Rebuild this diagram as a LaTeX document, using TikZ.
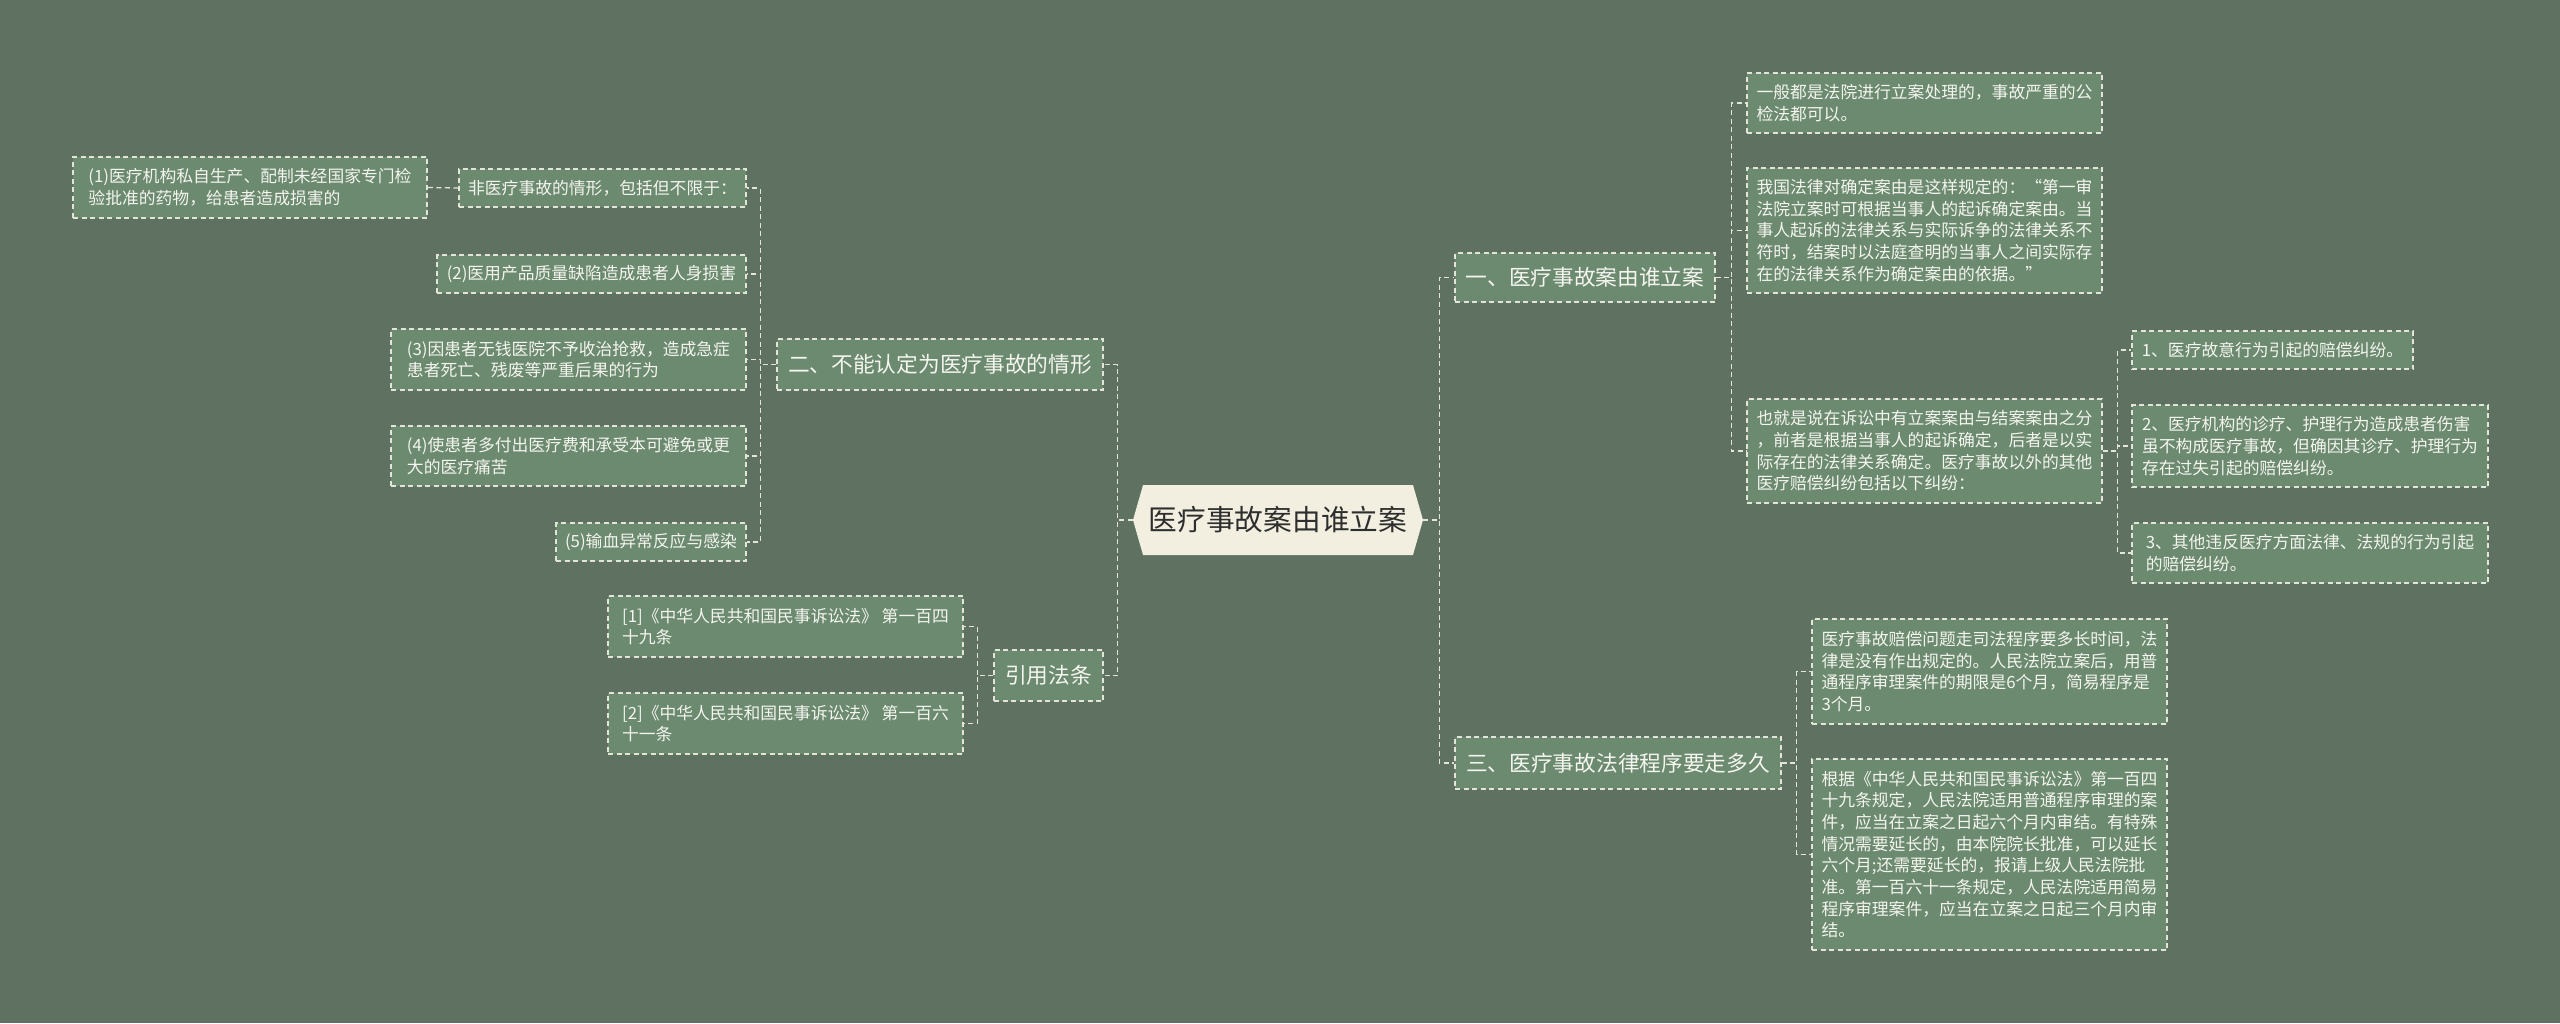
\documentclass[tikz,border=0pt]{standalone}
\usepackage{fontspec}
\newfontfamily\hei{Noto Sans CJK SC}
\usetikzlibrary{shapes.symbols}
\definecolor{BgClr}{HTML}{5F7262}
\definecolor{BoxClr}{HTML}{6B8A6F}
\definecolor{LineClr}{HTML}{E2E5D8}
\definecolor{RootClr}{HTML}{F3EFE0}
\definecolor{TxtClr}{HTML}{F4F5EE}
\definecolor{RootTxt}{HTML}{2E2E2E}

\begin{document}
\begin{tikzpicture}[x=1pt,y=-1pt,
  link/.style={draw=LineClr,line width=1.3pt,dash pattern=on 5pt off 3.5pt},
  box/.style={link,fill=BoxClr,text=TxtClr,align=left,inner sep=0pt},
  leaf/.style={box,font=\hei\fontsize{16.8}{21.7}\selectfont},
  topic/.style={box,font=\hei\fontsize{21.7}{26}\selectfont},
  root/.style={signal,signal to=west and east,signal pointer angle=148,
    fill=RootClr,text=RootTxt,inner sep=0pt,
    font=\hei\fontsize{28.7}{34}\selectfont}]

\useasboundingbox (0,0) rectangle (2560,1023);
\fill[BgClr] (0,0) rectangle (2560,1023);

\node[root,minimum width=290,minimum height=70] (R) at (1278,520) {医疗事故案由谁立案};

% left half
\node[topic,minimum width=326,minimum height=51] (T2) at (940,364.5) {二、不能认定为医疗事故的情形};
\node[leaf,minimum width=287,minimum height=38] (L0) at (602.5,188) {非医疗事故的情形，包括但不限于：};
\node[leaf,minimum width=354,minimum height=61] (L1) at (250,187.5) {(1)医疗机构私自生产、配制未经国家专门检\\验批准的药物，给患者造成损害的};
\node[leaf,minimum width=309,minimum height=38] (L2) at (591.5,274) {(2)医用产品质量缺陷造成患者人身损害};
\node[leaf,minimum width=355,minimum height=61] (L3) at (568.5,359.5) {(3)因患者无钱医院不予收治抢救，造成急症\\患者死亡、残废等严重后果的行为};
\node[leaf,minimum width=355,minimum height=60] (L4) at (568.5,456) {(4)使患者多付出医疗费和承受本可避免或更\\大的医疗痛苦};
\node[leaf,minimum width=190,minimum height=38] (L5) at (651,542) {(5)输血异常反应与感染};

\node[topic,minimum width=109,minimum height=51] (T4) at (1048.5,675.5) {引用法条};
\node[leaf,minimum width=355,minimum height=61] (C1) at (785.5,626.5) {[1]《中华人民共和国民事诉讼法》 第一百四\\十九条};
\node[leaf,minimum width=355,minimum height=61] (C2) at (785.5,723.5) {[2]《中华人民共和国民事诉讼法》 第一百六\\十一条};

% right half
\node[topic,minimum width=260,minimum height=49] (T1) at (1585,277.5) {一、医疗事故案由谁立案};
\node[leaf,minimum width=355,minimum height=60] (A1) at (1924.5,103) {一般都是法院进行立案处理的，事故严重的公\\检法都可以。};
\node[leaf,minimum width=355,minimum height=125] (A2) at (1924.5,230.5) {我国法律对确定案由是这样规定的：“第一审\\法院立案时可根据当事人的起诉确定案由。当\\事人起诉的法律关系与实际诉争的法律关系不\\符时，结案时以法庭查明的当事人之间实际存\\在的法律关系作为确定案由的依据。”};
\node[leaf,minimum width=355,minimum height=104] (A3) at (1924.5,451) {也就是说在诉讼中有立案案由与结案案由之分\\，前者是根据当事人的起诉确定，后者是以实\\际存在的法律关系确定。医疗事故以外的其他\\医疗赔偿纠纷包括以下纠纷：};
\node[leaf,minimum width=281,minimum height=38] (D1) at (2272.5,350) {1、医疗故意行为引起的赔偿纠纷。};
\node[leaf,minimum width=356,minimum height=82] (D2) at (2310,446) {2、医疗机构的诊疗、护理行为造成患者伤害\\虽不构成医疗事故，但确因其诊疗、护理行为\\存在过失引起的赔偿纠纷。};
\node[leaf,minimum width=356,minimum height=60] (D3) at (2310,553) {3、其他违反医疗方面法律、法规的行为引起\\的赔偿纠纷。};

\node[topic,minimum width=326,minimum height=52] (T3) at (1618,763) {三、医疗事故法律程序要走多久};
\node[leaf,minimum width=355,minimum height=105] (B1) at (1989.5,671.5) {医疗事故赔偿问题走司法程序要多长时间，法\\律是没有作出规定的。人民法院立案后，用普\\通程序审理案件的期限是6个月，简易程序是\\3个月。};
\node[leaf,minimum width=355,minimum height=191] (B2) at (1989.5,854.5) {根据《中华人民共和国民事诉讼法》第一百四\\十九条规定，人民法院适用普通程序审理的案\\件，应当在立案之日起六个月内审结。有特殊\\情况需要延长的，由本院院长批准，可以延长\\六个月;还需要延长的，报请上级人民法院批\\准。第一百六十一条规定，人民法院适用简易\\程序审理案件，应当在立案之日起三个月内审\\结。};

% connectors
\foreach \t in {T2,T4} \draw[link] (R.west) -- ++(-15,0) |- (\t.east);
\foreach \t in {T1,T3} \draw[link] (R.east) -- ++(16,0) |- (\t.west);
\foreach \c in {L0,L2,L3,L4,L5} \draw[link] (T2.west) -- ++(-16,0) |- (\c.east);
\draw[link] (L0.west) -- (L1.east);
\foreach \c in {C1,C2} \draw[link] (T4.west) -- ++(-16,0) |- (\c.east);
\foreach \c in {A1,A2,A3} \draw[link] (T1.east) -- ++(16,0) |- (\c.west);
\foreach \c in {D1,D2,D3} \draw[link] (A3.east) -- ++(15,0) |- (\c.west);
\foreach \c in {B1,B2} \draw[link] (T3.east) -- ++(15,0) |- (\c.west);
\end{tikzpicture}
\end{document}
